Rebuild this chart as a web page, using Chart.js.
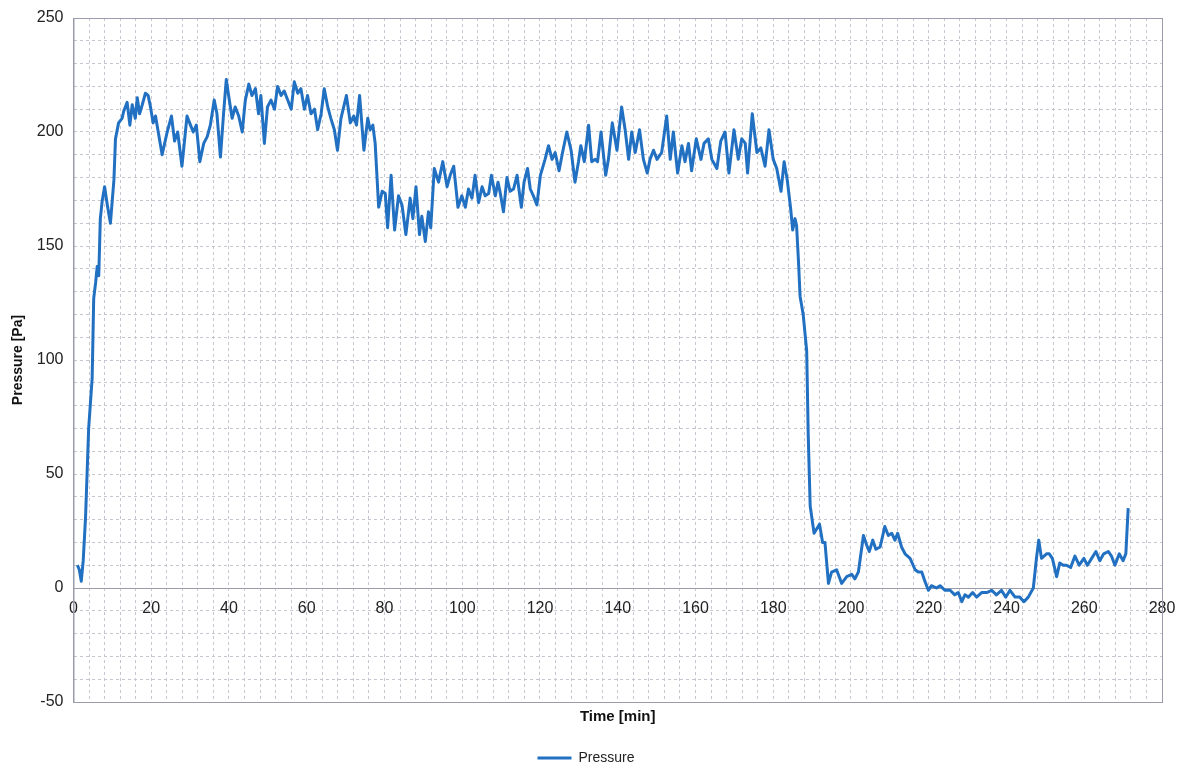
<!DOCTYPE html>
<html>
<head>
<meta charset="utf-8">
<script src="https://cdn.jsdelivr.net/npm/chart.js@4"></script>
<style>
  html, body { margin: 0; padding: 0; background: #fff; }
  #wrap { width: 1188px; height: 766px; }
</style>
</head>
<body>
<div id="wrap"><canvas id="chart"></canvas></div>
<script>
// time in minutes and pressure in Pa
const times = [
  1, 1.5, 2, 2.5, 3.1, 3.9, 4.8, 5.2, 5.7, 6.1,
  6.5, 6.9, 7.4, 8.0, 8.7, 9.5, 10.4, 10.8, 11.6, 12.5,
  12.9, 13.8, 14.5, 15.1, 15.9, 16.4, 17.0, 17.7, 18.5, 19.2,
  19.8, 20.5, 21.1, 21.7, 22.8, 24.1, 25.2, 26.0, 26.8, 27.9,
  29.2, 30.1, 30.8, 31.6, 32.5, 33.5, 34.4, 35.2, 36.2, 36.9,
  37.8, 38.6, 39.3, 39.9, 40.8, 41.6, 42.5, 43.4, 44.2, 45.1,
  45.9, 46.8, 47.6, 48.2, 49.1, 49.9, 50.8, 51.7, 52.5, 53.4,
  54.2, 55.1, 56.0, 56.8, 57.7, 58.5, 59.4, 60.2, 61.1, 62.0,
  62.8, 63.7, 64.5, 65.4, 66.2, 67.1, 67.9, 68.8, 70.2, 71.2,
  72.1, 72.8, 73.6, 74.7, 75.7, 76.3, 77.0, 77.6, 78.5, 79.4,
  80.2, 80.8, 81.7, 82.6, 83.6, 84.5, 85.5, 86.6, 87.3, 88.1,
  89.0, 89.6, 90.5, 91.3, 91.9, 92.8, 93.9, 95.0, 96.1, 96.9,
  97.8, 98.9, 99.9, 100.8, 101.6, 102.5, 103.3, 104.2, 105.1, 105.9,
  106.8, 107.5, 108.5, 109.2, 109.8, 110.6, 111.5, 112.3, 113.2, 114.1,
  115.2, 115.9, 116.8, 117.5, 118.3, 119.2, 120.1, 121.3, 122.2, 123.1,
  123.9, 124.9, 125.8, 126.9, 128.0, 129.0, 129.9, 130.5, 131.4, 132.5,
  133.3, 134.2, 134.8, 135.7, 136.9, 137.6, 138.6, 139.8, 141.0, 141.9,
  142.8, 143.6, 144.5, 145.6, 146.6, 147.6, 148.3, 149.2, 150.1, 151.3,
  152.6, 153.5, 154.3, 155.4, 156.5, 157.3, 158.2, 159.0, 160.2, 161.4,
  162.2, 163.3, 164.2, 165.5, 166.5, 167.6, 168.6, 169.9, 171.0, 171.9,
  172.8, 173.4, 174.6, 175.8, 176.8, 177.9, 178.9, 180.0, 180.9, 182.0,
  182.8, 183.6, 184.5, 185.0, 185.6, 186.0, 186.5, 186.9, 187.7, 188.6,
  189.0, 189.5, 190.5, 191.9, 192.7, 193.3, 194.2, 195.0, 196.3, 197.6,
  198.9, 200.2, 201.0, 201.9, 203.2, 204.0, 204.7, 205.6, 206.4, 207.5,
  208.7, 209.6, 210.5, 211.3, 212.0, 213.0, 213.9, 215.2, 216.5, 217.3,
  218.2, 219.0, 219.9, 220.7, 222.0, 222.9, 224.2, 225.5, 226.7, 227.6,
  228.5, 229.3, 230.2, 231.3, 232.3, 233.6, 234.9, 236.2, 237.4, 238.7,
  239.8, 240.9, 242.2, 243.4, 244.5, 245.6, 246.9, 247.7, 248.3, 249.0,
  250.3, 251.0, 251.8, 252.9, 253.7, 254.6, 255.4, 256.5, 257.6, 258.7,
  259.9, 260.8, 261.9, 263.0, 264.0, 265.0, 266.2, 267.0, 267.9, 269.0,
  270.0, 270.7, 271.3
];

const pressure = [
  10, 8, 3, 12, 31, 70, 92, 127, 134, 141,
  137, 162, 170, 176, 168, 160, 179, 197, 204, 206,
  209, 213, 203, 212, 206, 215, 208, 212, 217, 216,
  211, 204, 207, 201, 190, 200, 207, 196, 200, 185,
  207, 203, 200, 203, 187, 195, 198, 203, 214, 208,
  189, 208, 223, 216, 206, 211, 207, 200, 214, 221,
  216, 219, 208, 216, 195, 211, 214, 210, 220, 216,
  218, 214, 210, 222, 217, 219, 210, 216, 208, 210,
  201, 208, 219, 211, 206, 201, 192, 206, 216, 204,
  207, 203, 216, 192, 206, 201, 203, 195, 167, 174,
  173, 158, 181, 157, 172, 168, 155, 171, 162, 176,
  155, 163, 152, 165, 158, 184, 178, 187, 176, 181,
  185, 167, 172, 167, 175, 171, 181, 169, 176, 172,
  173, 181, 172, 178, 173, 165, 180, 174, 175, 181,
  167, 178, 184, 175, 172, 168, 181, 188, 194, 188,
  191, 183, 191, 200, 192, 178, 187, 194, 187, 203,
  187, 188, 187, 200, 181, 188, 204, 192, 211, 201,
  188, 200, 191, 201, 188, 182, 188, 192, 188, 191,
  207, 188, 200, 182, 194, 187, 195, 183, 197, 188,
  195, 197, 188, 184, 196, 200, 182, 201, 188, 197,
  195, 182, 208, 191, 193, 185, 201, 188, 184, 174,
  187, 179, 166, 157, 162, 159, 143, 128, 120, 104,
  67, 36, 24, 28, 20, 20, 2, 7, 8, 2,
  5, 6, 4, 7, 23, 19, 16, 21, 17, 18,
  27, 23, 24, 21, 24, 18, 15, 13, 8, 7,
  7, 3, -1, 1, 0, 1, -1, -1, -3, -2,
  -6, -3, -4, -2, -4, -2, -2, -1, -3, -1,
  -4, -1, -4, -4, -6, -4, 0, 13, 21, 13,
  15, 15, 13, 5, 11, 10, 10, 9, 14, 10,
  13, 10, 13, 16, 12, 15, 16, 14, 10, 15,
  12, 15, 35
];

const xTickLabels = [0, 20, 40, 60, 80, 100, 120, 140, 160, 180, 200, 220, 240, 260, 280];
const yTickLabels = [-50, 0, 50, 100, 150, 200, 250];

const lineColor = '#2170c2';
const gridColor = '#c4c6d0';
const axisColor = '#9a9cab';
const font = 'Liberation Sans, Arial, sans-serif';

// plot-area frame like the Excel original
const frame = {
    id: 'frame',
    afterDraw(chart) {
        const { ctx, chartArea: a } = chart;
        ctx.save();
        ctx.strokeStyle = axisColor;
        ctx.lineWidth = 1;
        ctx.strokeRect(a.left + 0.5, a.top + 0.5, a.right - a.left, a.bottom - a.top);
        ctx.restore();
    }
};

new Chart(document.getElementById('chart'), {
    type: 'line',
    data: {
        datasets: [{
            label: 'Pressure',
            data: times.map((t, i) => ({ x: t, y: pressure[i] })),
            borderColor: lineColor,
            backgroundColor: lineColor,
            borderWidth: 3,
            borderJoinStyle: 'round',
            pointRadius: 0,
            tension: 0,
            xAxisID: 'x'
        }]
    },
    options: {
        responsive: true,
        maintainAspectRatio: false,
        animation: false,
        layout: { padding: { top: 16, right: 26, left: 10, bottom: -9 } },
        plugins: {
            legend: {
                position: 'bottom',
                labels: {
                    usePointStyle: true,
                    pointStyle: 'line',
                    pointStyleWidth: 34,
                    color: '#222',
                    font: { family: font, size: 14 },
                    padding: 7
                }
            },
            tooltip: { enabled: false }
        },
        scales: {
            x: {
                type: 'linear',
                min: 0,
                max: 280,
                position: 'bottom',
                ticks: { display: false, stepSize: 4 },
                grid: { color: gridColor, drawTicks: false },
                border: { display: false, dash: [3, 3] },
                title: {
                    display: true,
                    text: 'Time [min]',
                    color: '#111',
                    font: { family: font, size: 15, weight: 'bold' },
                    padding: { top: 6, bottom: 18 }
                }
            },
            xZero: {
                type: 'linear',
                min: 0,
                max: 280,
                position: { y: 0 },
                afterBuildTicks: s => { s.ticks = xTickLabels.map(v => ({ value: v })); },
                ticks: { color: '#222', font: { family: font, size: 16 }, padding: 11 },
                grid: { display: false, drawTicks: false },
                border: { display: true, color: axisColor, width: 1 }
            },
            y: {
                min: -50,
                max: 250,
                ticks: {
                    stepSize: 10,
                    autoSkip: false,
                    color: '#222',
                    font: { family: font, size: 16, lineHeight: 1 },
                    padding: 10,
                    callback: v => yTickLabels.includes(v) ? v : ''
                },
                grid: { color: gridColor, drawTicks: false },
                border: { display: true, color: axisColor, dash: [3, 3] },
                title: {
                    display: true,
                    text: 'Pressure [Pa]',
                    color: '#111',
                    font: { family: font, size: 14, weight: 'bold' },
                    padding: { top: 0, bottom: 0 }
                }
            }
        }
    },
    plugins: [frame]
});
</script>
</body>
</html>
